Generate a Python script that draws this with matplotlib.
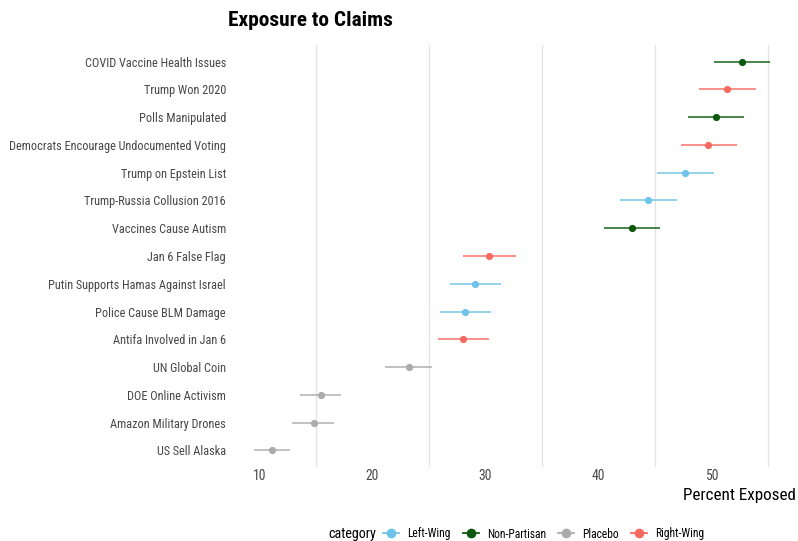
import matplotlib
matplotlib.use("Agg")
import matplotlib.pyplot as plt
from matplotlib.lines import Line2D
import numpy as np

plt.rcParams['font.family'] = ['Roboto Condensed', 'Liberation Sans Narrow', 'Roboto', 'DejaVu Sans']

claims = [
    "COVID Vaccine Health Issues",
    "Trump Won 2020",
    "Polls Manipulated",
    "Democrats Encourage Undocumented Voting",
    "Trump on Epstein List",
    "Trump-Russia Collusion 2016",
    "Vaccines Cause Autism",
    "Jan 6 False Flag",
    "Putin Supports Hamas Against Israel",
    "Police Cause BLM Damage",
    "Antifa Involved in Jan 6",
    "UN Global Coin",
    "DOE Online Activism",
    "Amazon Military Drones",
    "US Sell Alaska",
]
category = [
    "Non-Partisan", "Right-Wing", "Non-Partisan", "Right-Wing", "Left-Wing",
    "Left-Wing", "Non-Partisan", "Right-Wing", "Left-Wing", "Left-Wing",
    "Right-Wing", "Placebo", "Placebo", "Placebo", "Placebo",
]
percent = [52.7, 51.4, 50.4, 49.7, 47.7, 44.4, 43.0, 30.3, 29.1, 28.2, 28.0, 23.2, 15.4, 14.8, 11.1]
ci_low = [50.2, 48.9, 47.9, 47.3, 45.2, 41.9, 40.5, 28.0, 26.9, 26.0, 25.8, 21.1, 13.6, 12.9, 9.5]
ci_high = [55.2, 54.0, 52.9, 52.3, 50.2, 47.0, 45.5, 32.7, 31.4, 30.5, 30.3, 25.3, 17.2, 16.6, 12.7]

categories = ["Left-Wing", "Non-Partisan", "Placebo", "Right-Wing"]
palette = {
    "Left-Wing": "#6EC4E8",
    "Non-Partisan": "#0B5A0B",
    "Placebo": "#ABABAB",
    "Right-Wing": "#F86A5F",
}

fig = plt.figure(figsize=(7.98, 5.41), dpi=100)
W, H = 798, 541
ax = fig.add_axes([228 / W, 1 - 467 / H, (796 - 228) / W, (467 - 45) / H])

n = len(claims)
ypos = np.arange(n)[::-1]
for y, p, lo, hi, c in zip(ypos, percent, ci_low, ci_high, category):
    col = palette[c]
    ax.plot([lo, hi], [y, y], color=col, lw=1.3, alpha=0.8, solid_capstyle='butt', zorder=2)
    ax.plot([p], [y], 'o', color=col, ms=5.2, mec='none', zorder=3)

ax.set_ylim(-0.6, n - 1 + 0.6)
ax.set_xlim(7.2, 57.5)
ax.set_yticks(ypos)
ax.set_yticklabels(claims, fontsize=8.8, color="#474747")
ax.set_xticks([10, 20, 30, 40, 50])
ax.set_xticklabels(["10", "20", "30", "40", "50"], fontsize=9.8, color="#474747")
ax.tick_params(axis='x', length=0, pad=1.5)
ax.tick_params(axis='y', length=0, pad=1.5)
for gx in [15, 25, 35, 45, 55]:
    ax.axvline(gx, color="#E3E3E3", lw=0.9, zorder=1)
for s in ax.spines.values():
    s.set_visible(False)

ax.set_xlabel("Percent Exposed", fontsize=12.3, color="black", loc="right", labelpad=3.5)

fig.text(228 / W, 1 - 26 / H, "Exposure to Claims", fontsize=15.4, fontweight="bold",
         ha="left", va="baseline")

# legend along the bottom
fig.text(328 / W, 1 - 534 / H, "category", fontsize=10.2, ha="left", va="center")
handles = [Line2D([0], [0], color=palette[c], lw=1.3, marker='o', ms=7, mec='none')
           for c in categories]
fig.legend(handles, categories, ncol=4, loc="center left",
           bbox_to_anchor=(383 / W, 1 - 534 / H), frameon=False, fontsize=8.3,
           handlelength=1.4, handletextpad=0.7, columnspacing=1.05, borderaxespad=0,
           borderpad=0)

fig.savefig("out.png", dpi=100)
